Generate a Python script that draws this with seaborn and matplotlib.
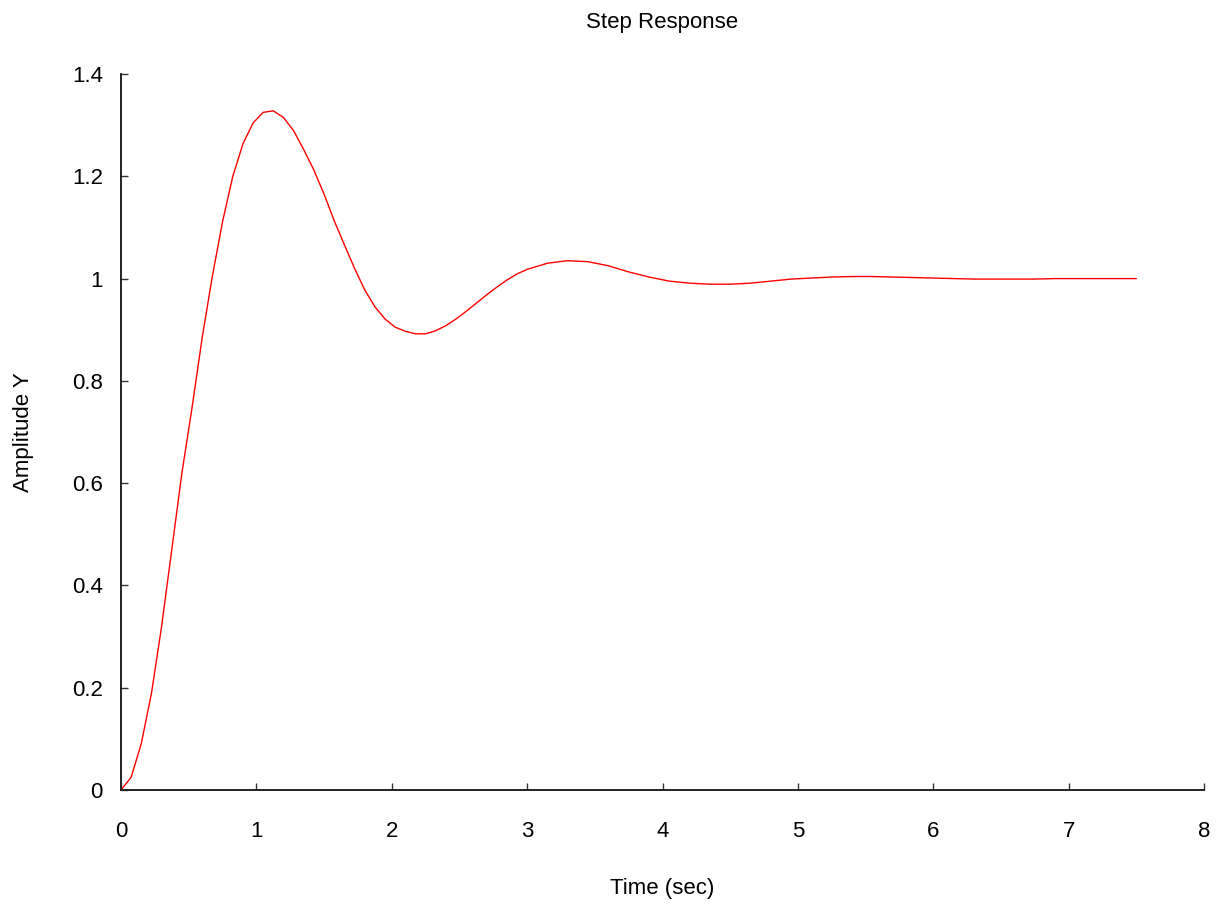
import matplotlib
matplotlib.use("Agg")
import matplotlib.pyplot as plt
import seaborn as sns
import pandas as pd

# sample times (sec)
time_s = [0.0, 0.075, 0.15, 0.225, 0.3, 0.375, 0.45, 0.525, 0.6, 0.675,
          0.75, 0.825, 0.9, 0.975, 1.05, 1.125, 1.2, 1.275, 1.35, 1.425,
          1.5, 1.575, 1.65, 1.725, 1.8, 1.875, 1.95, 2.025, 2.1, 2.175,
          2.25, 2.325, 2.4, 2.475, 2.55, 2.625, 2.7, 2.775, 2.85, 2.925,
          3.0, 3.15, 3.3, 3.45, 3.6, 3.75, 3.9, 4.05, 4.2, 4.35,
          4.5, 4.65, 4.8, 4.95, 5.1, 5.25, 5.4, 5.55, 5.7, 5.85,
          6.0, 6.15, 6.3, 6.45, 6.6, 6.75, 6.9, 7.05, 7.2, 7.35, 7.5]

# amplitude at those times
amplitude = [0.0, 0.025, 0.091, 0.189, 0.320, 0.470, 0.620, 0.748, 0.885, 1.005,
             1.111, 1.199, 1.263, 1.304, 1.325, 1.328, 1.315, 1.289, 1.252, 1.212,
             1.165, 1.113, 1.066, 1.020, 0.978, 0.945, 0.921, 0.905, 0.897, 0.892,
             0.892, 0.898, 0.908, 0.921, 0.936, 0.952, 0.968, 0.983, 0.997, 1.009,
             1.018, 1.030, 1.035, 1.033, 1.025, 1.013, 1.003, 0.995, 0.991, 0.989,
             0.989, 0.991, 0.995, 0.999, 1.001, 1.003, 1.004, 1.004, 1.003, 1.002,
             1.001, 1.000, 0.999, 0.999, 0.999, 0.999, 1.000, 1.000, 1.000, 1.000, 1.000]

xticks = [0, 1, 2, 3, 4, 5, 6, 7, 8]
yticks = [0, 0.2, 0.4, 0.6, 0.8, 1.0, 1.2, 1.4]
ytick_labels = ["0", "0.2", "0.4", "0.6", "0.8", "1", "1.2", "1.4"]

df = pd.DataFrame({"t": time_s, "y": amplitude})

sns.set_theme(style="ticks")
plt.rcParams["font.family"] = ["Liberation Sans", "DejaVu Sans"]
plt.rcParams["text.color"] = "black"
plt.rcParams["axes.labelcolor"] = "black"

fig = plt.figure(figsize=(12.21, 9.09), dpi=100)
ax = fig.add_axes([0.0991, 0.1309, 0.8870, 0.7877])

sns.lineplot(data=df, x="t", y="y", color="red", linewidth=1.0, sort=False, ax=ax)

ax.set_xlim(0, 8)
ax.set_ylim(0, 1.4)
ax.set_xticks(xticks)
ax.set_xticklabels([str(i) for i in xticks])
ax.set_yticks(yticks)
ax.set_yticklabels(ytick_labels)

ax.tick_params(axis="both", direction="in", length=5, width=1.0, colors="#333333",
               labelcolor="black", labelsize=16)
ax.tick_params(axis="x", pad=22)
ax.tick_params(axis="y", pad=13)

sns.despine(ax=ax)
for s in ["left", "bottom"]:
    ax.spines[s].set_color("#222222")
    ax.spines[s].set_linewidth(1.4)

ax.set_title("Step Response", fontsize=16, pad=33)
ax.set_xlabel("Time (sec)", fontsize=16, labelpad=26)
ax.set_ylabel("Amplitude Y", fontsize=16, labelpad=27)

fig.savefig("out.png", dpi=100, facecolor="white")
